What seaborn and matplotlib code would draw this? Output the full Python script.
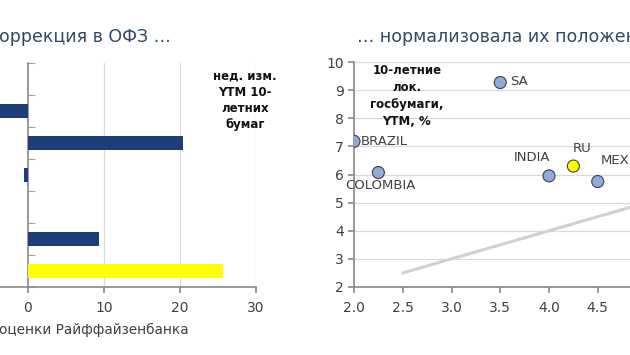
import numpy as np
import pandas as pd
import matplotlib
matplotlib.use("Agg")
import matplotlib.pyplot as plt
import seaborn as sns

# ---------------- data ----------------
bar_categories = ["c1", "c2", "c3", "c4", "c5", "c6", "c7"]
bar_values = [np.nan, -6.0, 20.4, -0.5, np.nan, 9.3, 25.6]
bar_colors = ["#1F3D7A", "#1F3D7A", "#1F3D7A", "#1F3D7A", "#1F3D7A", "#1F3D7A", "#FFFF00"]
bar_xticks = [0, 10, 20, 30]

countries = ["SA", "BRAZIL", "COLOMBIA", "INDIA", "RU", "MEXICO"]
scatter_x = [3.5, 2.0, 2.25, 4.0, 4.25, 4.5]
scatter_y = [9.27, 7.18, 6.07, 5.95, 6.3, 5.75]
point_colors = ["#8FAADC", "#8FAADC", "#8FAADC", "#8FAADC", "#FFFF00", "#8FAADC"]
line_x = [2.5, 5.0]
line_y = [2.5, 5.0]
scatter_xticks = [2.0, 2.5, 3.0, 3.5, 4.0, 4.5]
scatter_yticks = [2, 3, 4, 5, 6, 7, 8, 9, 10]

title_left = "оррекция в ОФЗ …"
title_right = "… нормализовала их положение"
source_text = "оценки Райффайзенбанка"
note_left = "нед. изм.\nYTM 10-\nлетних\nбумаг"
note_right = "10-летние\nлок.\nгосбумаги,\nYTM, %"

# ---------------- style ----------------
sns.set_theme(style="white")
plt.rcParams["font.family"] = ["DejaVu Sans"]
GRID = "#D9D9D9"
SPINE = "#8C8C8C"
TXT = "#404040"

W, H = 630, 355
fig = plt.figure(figsize=(6.3, 3.55), dpi=100)

def rect(x0, y_top, x1, y_bot):
    return [x0 / W, 1 - y_bot / H, (x1 - x0) / W, (y_bot - y_top) / H]

# ---------------- left: bar chart ----------------
ax1 = fig.add_axes(rect(-48, 63, 256, 287))
df_bar = pd.DataFrame({"cat": bar_categories, "val": bar_values})
sns.barplot(data=df_bar, x="val", y="cat", hue="cat", palette=bar_colors,
            width=0.44, orient="h", legend=False, ax=ax1, saturation=1, zorder=3)
for p, c in zip(ax1.patches, bar_colors):
    if c == "#FFFF00":
        p.set_edgecolor("#303030")
        p.set_linewidth(1.0)
    else:
        p.set_linewidth(0)
ax1.set_xlim(-10, 30)
ax1.set_ylim(6.5, -0.5)
ax1.set_xticks(bar_xticks)
ax1.set_yticks(np.arange(-0.5, 7.0, 1.0))
ax1.set_yticklabels([])
ax1.set_xlabel("")
ax1.set_ylabel("")
for s in ["top", "right"]:
    ax1.spines[s].set_visible(False)
ax1.spines["left"].set_position(("data", 0))
ax1.spines["left"].set_color(SPINE)
ax1.spines["bottom"].set_color(SPINE)
ax1.tick_params(axis="y", direction="in", length=5, width=0.8, color="#A0A0A0", left=True)
ax1.tick_params(axis="x", direction="out", length=4, color=SPINE, bottom=True,
                labelsize=10, labelcolor=TXT, pad=6)
for xv in [10, 20, 30]:
    ax1.axvline(xv, color=GRID, lw=0.9, zorder=0)

# ---------------- right: scatter ----------------
ax2 = fig.add_axes(rect(354, 62, 646.5, 287))
df_sc = pd.DataFrame({"country": countries, "x": scatter_x, "y": scatter_y})
sns.lineplot(x=line_x, y=line_y, color="#D0D0D0", lw=2.2, ax=ax2, zorder=2)
sns.scatterplot(data=df_sc, x="x", y="y", hue="country", palette=point_colors,
                s=75, edgecolor="#404040", linewidth=0.8, legend=False, ax=ax2, zorder=4)
ax2.set_xlim(2.0, 5.0)
ax2.set_ylim(2, 10)
ax2.set_xticks(scatter_xticks)
ax2.set_xticklabels([f"{v:.1f}" for v in scatter_xticks])
ax2.set_yticks(scatter_yticks)
ax2.set_xlabel("")
ax2.set_ylabel("")
for s in ["top", "right"]:
    ax2.spines[s].set_visible(False)
ax2.spines["left"].set_color(SPINE)
ax2.spines["bottom"].set_color(SPINE)
ax2.tick_params(axis="both", direction="out", length=4, color=SPINE,
                labelsize=10, labelcolor=TXT, left=True, bottom=True)
ax2.tick_params(axis="x", pad=6)
for yv in scatter_yticks[1:]:
    ax2.axhline(yv, color=GRID, lw=0.9, zorder=0)

# offsets in points
label_offsets = {
    "SA": (7, 1, "left", "center"),
    "BRAZIL": (5, 0, "left", "center"),
    "COLOMBIA": (-24, -9, "left", "center"),
    "INDIA": (-12, 13, "center", "center"),
    "RU": (6, 13, "center", "center"),
    "MEXICO": (2, 15, "left", "center"),
}
for name, xv, yv in zip(countries, scatter_x, scatter_y):
    dx, dy, ha, va = label_offsets[name]
    ax2.annotate(name, (xv, yv), xytext=(dx, dy), textcoords="offset points",
                 ha=ha, va=va, fontsize=9.5, color=TXT, zorder=5,
                 annotation_clip=False)

# ---------------- texts ----------------
TITLE_C = "#2E4A66"
fig.text(-1 / W, 1 - 37 / H, title_left, fontsize=12.5, color=TITLE_C,
         ha="left", va="center")
fig.text(357 / W, 1 - 37 / H, title_right, fontsize=12.5, color=TITLE_C,
         ha="left", va="center")
fig.text(-1 / W, 1 - 330 / H, source_text, fontsize=9.8, color=TXT,
         ha="left", va="center")
fig.text(245 / W, 1 - 100 / H, note_left, fontsize=8.5, fontweight="bold",
         color="#111111", ha="center", va="center", linespacing=1.3)
fig.text(407 / W, 1 - 96 / H, note_right, fontsize=8.5, fontweight="bold",
         color="#111111", ha="center", va="center", linespacing=1.38)

fig.savefig("out.png", dpi=100)
